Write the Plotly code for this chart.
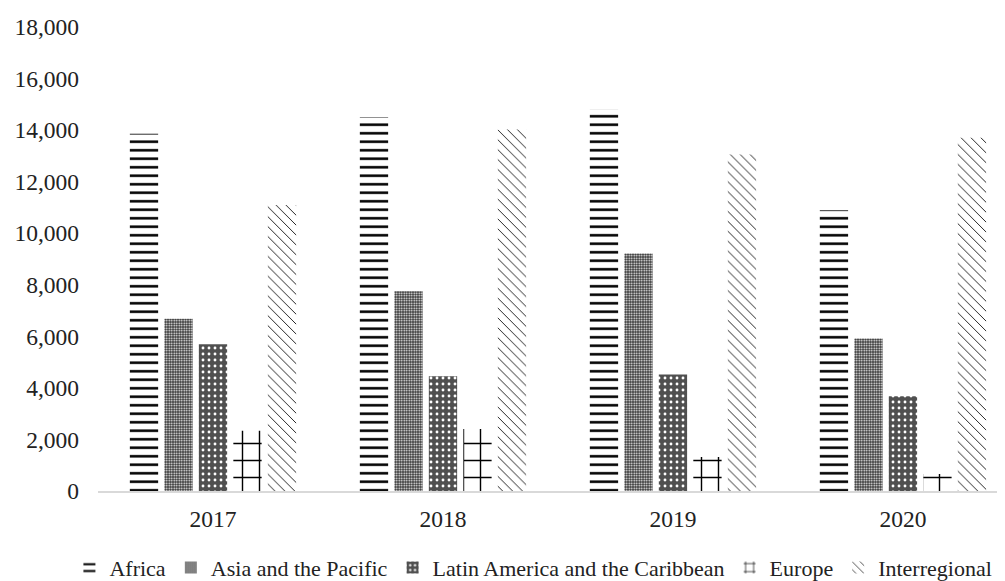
import plotly.graph_objects as go

years = ["2017", "2018", "2019", "2020"]
africa = [13860, 14500, 14800, 10890]
asia_pacific = [6680, 7750, 9210, 5920]
latin_america = [5690, 4450, 4520, 3680]
europe = [2340, 2410, 1320, 660]
interregional = [11090, 14020, 13050, 13700]
y_ticks = [0, 2000, 4000, 6000, 8000, 10000, 12000, 14000, 16000, 18000]

series = [
    ("Africa", africa, dict(color="white", pattern=dict(shape="-", fgcolor="black", bgcolor="white", size=8.5, solidity=0.3, fillmode="replace"))),
    ("Asia and the Pacific", asia_pacific, dict(color="#333333", pattern=dict(shape=".", fgcolor="white", bgcolor="#333333", size=2.5, solidity=0.4, fillmode="replace"))),
    ("Latin America and the Caribbean", latin_america, dict(color="#505050", pattern=dict(shape=".", fgcolor="white", bgcolor="#505050", size=6, solidity=0.18, fillmode="replace"))),
    ("Europe", europe, dict(color="white", pattern=dict(shape="+", fgcolor="black", bgcolor="white", size=17, solidity=0.16, fillmode="replace"))),
    ("Interregional", interregional, dict(color="white", pattern=dict(shape="\\", fgcolor="#222222", bgcolor="white", size=7, solidity=0.14, fillmode="replace"))),
]

fig = go.Figure()
for name, vals, marker in series:
    marker = dict(marker)
    marker["line"] = dict(width=0)
    fig.add_trace(go.Bar(x=years, y=vals, name=name, marker=marker))

FONT = "Liberation Serif"
FS = 23.5
W, H = 997, 573

fig.update_layout(
    width=W,
    height=H,
    paper_bgcolor="white",
    plot_bgcolor="white",
    margin=dict(l=0, r=0, t=19, b=90, autoexpand=False),
    barmode="group",
    bargap=0.25,
    bargroupgap=0.18,
    font=dict(family=FONT, size=FS, color="#222222"),
    legend=dict(
        orientation="h",
        x=0.527,
        xanchor="center",
        xref="paper",
        y=0.023,
        yanchor="middle",
        yref="container",
        font=dict(family=FONT, size=22, color="#222222"),
        itemwidth=30,
        traceorder="normal",
    ),
    xaxis=dict(
        domain=[90 / W, 995 / W],
        range=[-0.5, 3.435],
        automargin=False,
        showline=True,
        linecolor="#d9d9d9",
        linewidth=1.5,
        showgrid=False,
        ticks="",
        ticklabelstandoff=6,
        tickfont=dict(family=FONT, size=FS, color="#222222"),
    ),
    yaxis=dict(
        range=[0, 18000],
        automargin=False,
        tickvals=y_ticks,
        tickformat=",d",
        showgrid=False,
        zeroline=False,
        showline=False,
        ticks="",
        ticklabelstandoff=18,
        tickfont=dict(family=FONT, size=FS, color="#222222"),
    ),
)

fig.write_html("out.html")
